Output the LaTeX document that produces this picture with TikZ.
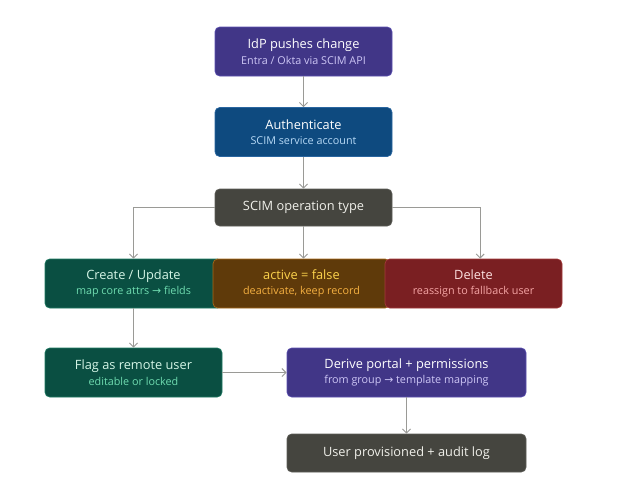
\documentclass[tikz,border=0pt]{standalone}
\usepackage{fontspec}
\setmainfont{Open Sans}
\newfontfamily\symfont{DejaVu Sans}
\usetikzlibrary{arrows.meta}

\definecolor{idpfill}{HTML}{413687}
\definecolor{idpline}{HTML}{5B50B0}
\definecolor{idpsub}{HTML}{CDC6F5}
\definecolor{authfill}{HTML}{0E4A7F}
\definecolor{authline}{HTML}{2A66A0}
\definecolor{authsub}{HTML}{B5D8F5}
\definecolor{opfill}{HTML}{45453F}
\definecolor{opline}{HTML}{5E5E58}
\definecolor{optext}{HTML}{F0F0EA}
\definecolor{grnfill}{HTML}{0A4F42}
\definecolor{grnline}{HTML}{1F7A62}
\definecolor{grntitle}{HTML}{D4F5E6}
\definecolor{grnsub}{HTML}{6FDCB0}
\definecolor{orgfill}{HTML}{5F3A0A}
\definecolor{orgline}{HTML}{A86A1A}
\definecolor{orgtitle}{HTML}{FCD34D}
\definecolor{orgsub}{HTML}{F5B041}
\definecolor{redfill}{HTML}{7A1F22}
\definecolor{redline}{HTML}{A33A3A}
\definecolor{redtitle}{HTML}{FDE0E0}
\definecolor{redsub}{HTML}{F5A5A5}
\definecolor{arrgray}{HTML}{9A9A96}

\newcommand{\boxtext}[4]{\textcolor{#1}{#2}\\[0.6pt]{\fontsize{8.1}{9.5}\selectfont\textcolor{#3}{#4}}}

\begin{document}
\begin{tikzpicture}[
        x=0.75pt, y=-0.75pt,
        every node/.style={font=\fontsize{9.6}{11}\selectfont},
        card/.style={rectangle,rounded corners=3.5pt,draw,line width=0.5pt,
          align=center,inner sep=0pt,minimum width=132.75pt,minimum height=36.75pt},
        arr/.style={arrgray,line width=0.75pt,-{Straight Barb[length=3pt,width=6pt]}},
      ]
      \fill[white] (0,0) rectangle (642,500);
      \useasboundingbox (0,0) rectangle (642,500);

      \node[card,fill=idpfill,draw=idpline] (idp) at (303.5,51.5)
        {\boxtext{white}{IdP pushes change}{idpsub}{Entra / Okta via SCIM API}};
      \node[card,fill=authfill,draw=authline] (auth) at (303.5,132)
        {\boxtext{white}{Authenticate}{authsub}{SCIM service account}};
      \node[card,fill=opfill,draw=opline,minimum height=27.75pt] (op) at (303.5,207.5)
        {\textcolor{optext}{SCIM operation type}};

      % the three cases overlap a little, drawn left to right
      \node[card,fill=grnfill,draw=grnline] (create) at (133.5,283.5)
        {\boxtext{grntitle}{Create / Update}{grnsub}{map core attrs {\symfont →} fields}};
      \node[card,fill=orgfill,draw=orgline] (deact) at (301.5,283.5)
        {\boxtext{orgtitle}{active = false}{orgsub}{deactivate, keep record}};
      \node[card,fill=redfill,draw=redline] (del) at (473.5,283.5)
        {\boxtext{redtitle}{Delete}{redsub}{reassign to fallback user}};

      \node[card,fill=grnfill,draw=grnline] (flag) at (133.5,372.5)
        {\boxtext{grntitle}{Flag as remote user}{grnsub}{editable or locked}};
      \node[card,fill=idpfill,draw=idpline,minimum width=179.25pt] (derive) at (406.5,372.5)
        {\boxtext{white}{Derive portal + permissions}{idpsub}{from group {\symfont →} template mapping}};
      \node[card,fill=opfill,draw=opline,minimum width=179.25pt,minimum height=28.5pt] (done) at (406.5,453)
        {\textcolor{optext}{User provisioned + audit log}};

      \draw[arr] (idp) -- (auth);
      \draw[arr] (auth) -- (op);
      \draw[arr] (op.west) -| (create.north);
      \draw[arr] (op.south) -- (op.south |- deact.north);
      \draw[arr] (op.east) -| ([xshift=5pt]del.north);
      \draw[arr] (create) -- (flag);
      \draw[arr] (flag) -- (derive);
      \draw[arr] (derive) -- (done);
    \end{tikzpicture}
\end{document}
